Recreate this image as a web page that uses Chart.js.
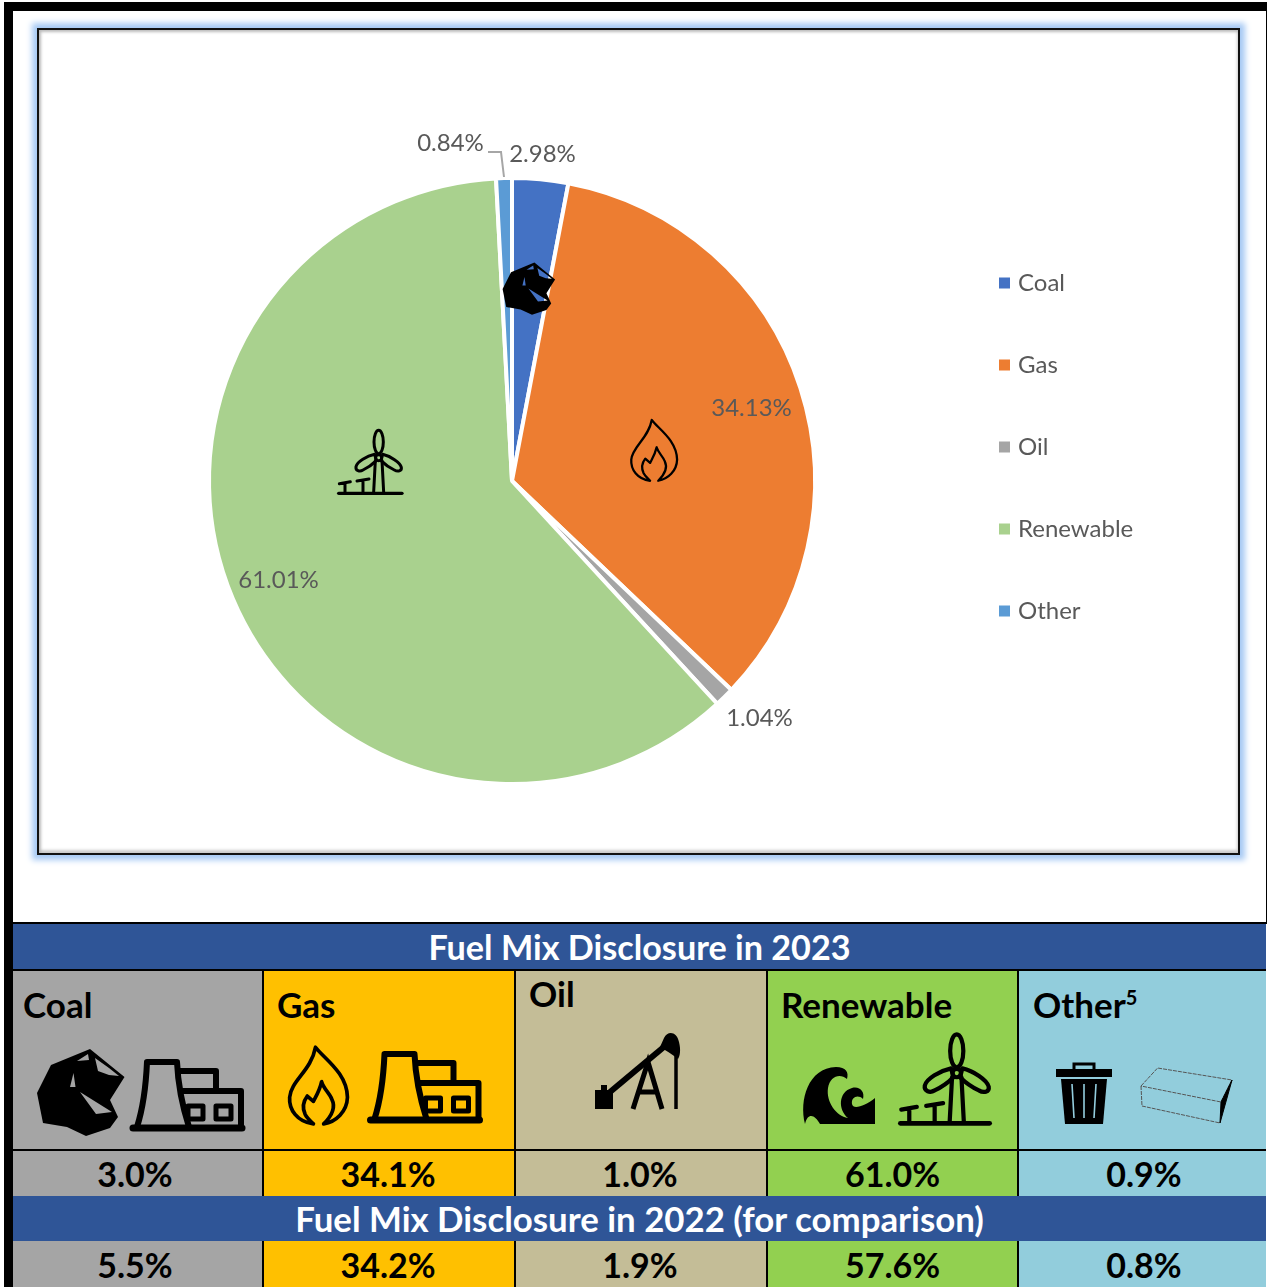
<!DOCTYPE html>
<html>
<head>
<meta charset="utf-8">
<title>Fuel Mix Disclosure</title>
<script src="https://cdn.jsdelivr.net/npm/chart.js@4"></script>
<style>
html,body{margin:0;padding:0;background:#fff;}
#page{position:relative;width:1267px;height:1287px;overflow:hidden;background:#fff;font-family:Lato,sans-serif;}
.edge{position:absolute;background:#000;}
#chartBox{position:absolute;left:37px;top:28px;width:1199px;height:823px;border:2px solid #111;background:#fff;
  box-shadow:0 0 6px 5px #a6c9f4,inset 2px 2px 3px #bbb,inset -1px -3px 3px #ccc;}
#chartWrap{position:absolute;left:40px;top:31px;width:1198px;height:822px;}
#icons{position:absolute;left:0;top:0;pointer-events:none;}
.band{position:absolute;left:13px;width:1253px;background:#2f5597;color:#fff;font-weight:700;text-align:center;white-space:nowrap;}
.cell{position:absolute;box-sizing:border-box;color:#000;font-weight:700;}
.rule{position:absolute;background:#000;}
.name{position:absolute;font-size:35px;line-height:40px;font-weight:700;color:#000;white-space:nowrap;}
.name sup{font-size:20px;line-height:0;vertical-align:baseline;position:relative;top:-13px;}
.val{text-align:center;font-size:34px;}
.val span{position:relative;}
</style>
</head>
<body>
<div id="page">
  <div class="edge" style="left:4px;top:2px;width:1263px;height:9px"></div>
  <div class="edge" style="left:4px;top:2px;width:9px;height:1285px"></div>
  <div class="edge" style="left:1266px;top:2px;width:1px;height:922px"></div>
  <div id="chartBox"></div>
  <div id="chartWrap"><canvas id="fuelChart"></canvas></div>
  <div id="table"></div>
  <svg id="icons" width="1267" height="1287" viewBox="0 0 1267 1287">
    <defs>
      <path id="rock" fill-rule="evenodd" d="M90 1049L124.5 1077L110 1100L118 1117L110 1128L86 1136L67 1127L43 1123L37 1093L51 1065Z
        M77 1061L88 1054L89 1060Z M95 1058L109 1068L119 1076L109 1075L98 1071Z M73.5 1073L70 1087L75.5 1087Z M80 1092L112 1112L96 1114Z"/>
      <g id="plant" fill="none" stroke="#000" stroke-width="6" stroke-linejoin="round" stroke-linecap="round">
        <path d="M133 1128H242" stroke-width="7"/>
        <path d="M137 1127C144 1105 146 1085 147 1062H177C178 1085 182 1105 189 1127"/>
        <path d="M180 1071H216V1091M182 1091H241V1127"/>
        <rect x="188" y="1106" width="15" height="13" stroke-width="5"/>
        <rect x="216" y="1106" width="15" height="13" stroke-width="5"/>
      </g>
      <path id="flame" fill="none" stroke="#000" stroke-linejoin="round" d="M150 245C110 240 90 210 92 180C95 140 145 115 155 58C175 85 232 120 233 180C232 215 205 240 175 245C195 225 205 205 195 185C190 170 175 160 170 142C165 165 155 180 150 190L135 177C125 190 122 205 130 222C135 232 145 240 150 245Z"/>
      <g id="turbine" fill="none" stroke="#000" stroke-width="9" stroke-linecap="round" stroke-linejoin="round">
        <path d="M55 220H245" stroke-width="10"/>
        <path d="M165 122L160 216M185 122L190 216"/>
        <ellipse cx="175" cy="66" rx="14" ry="35"/>
        <path d="M163 103C140 108 110 125 107 140C105 152 118 156 128 150C145 142 160 130 168 122Z"/>
        <path d="M187 103C210 108 240 128 243 142C245 154 232 156 222 150C205 142 190 130 182 122Z"/>
        <circle cx="175" cy="113" r="9"/>
        <path d="M57 191L90 185M74 188V218M110 183L146 177M128 180V218"/>
      </g>
    </defs>

    <!-- icons sitting on the pie -->
    <use href="#rock" transform="translate(480.4 -366.8) scale(.6)"/>
    <use href="#flame" stroke-width="7" transform="translate(629 419) scale(.325) translate(-85 -55)"/>
    <use href="#turbine" transform="translate(337 430) scale(.3333) translate(-50 -30)"/>

    <!-- coal -->
    <use href="#rock"/>
    <use href="#plant"/>
    <!-- gas -->
    <use href="#flame" stroke-width="9" transform="translate(288 1046) scale(.41) translate(-88 -55)"/>
    <use href="#plant" transform="translate(237.5 -8)"/>
    <!-- oil -->
    <g>
      <rect x="595" y="1090" width="18" height="19" fill="#000"/>
      <path d="M601 1090V1085H607V1090" fill="#000"/>
      <path d="M610 1092L665 1046" stroke="#000" stroke-width="6" fill="none"/>
      <path d="M664 1038C668 1030 677 1032 679 1042C681 1050 680 1056 678 1059C672 1054 665 1050 660 1047Z" fill="#000"/>
      <path d="M633 1109L648 1062L662 1109M640 1092H655" stroke="#000" stroke-width="5" fill="none"/>
      <path d="M676 1056V1109" stroke="#000" stroke-width="3.5" fill="none"/>
    </g>
    <!-- renewable -->
    <path fill="#000" d="M805 1124C799 1100 808 1068 836 1067C846 1067 849 1072 847 1079C840 1073 830 1076 828 1088C826 1102 836 1116 848 1118C838 1110 838 1092 852 1088C860 1086 865 1092 863 1099C858 1094 851 1097 852 1104C853 1110 865 1106 875 1098V1124H820C815 1115 808 1112 805 1124Z"/>
    <use href="#turbine" transform="translate(898 1034) scale(.47) translate(-50 -30)"/>
    <!-- other -->
    <g>
      <path d="M1074 1069V1064H1094V1069" fill="none" stroke="#000" stroke-width="3"/>
      <rect x="1056" y="1069" width="56" height="8" fill="#000"/>
      <path d="M1061 1079H1107L1103 1124H1065Z" fill="#000"/>
      <path d="M1072 1084L1074 1118M1084 1084V1118M1096 1084L1094 1118" stroke="#93cddd" stroke-width="1.6" fill="none"/>
      <path d="M1141 1086L1157.6 1068L1232 1080L1221 1102ZM1141 1086L1142 1106L1220 1123" fill="none" stroke="#555" stroke-width="1" stroke-dasharray="4 1"/>
      <path d="M1232 1080L1221 1102L1220 1123Z" fill="#000" stroke="#000"/>
    </g>
  </svg>
</div>

<script>
// pie, 2023
var categories = ["Coal", "Gas", "Oil", "Renewable", "Other"];
var pieValues = [2.98, 34.13, 1.04, 61.01, 0.84];
var pieColors = ["#4472c4", "#ed7d31", "#a5a5a5", "#a9d18e", "#5b9bd5"];

// table under the chart
var tableNames = ["Coal", "Gas", "Oil", "Renewable", "Other"];
var values2023 = ["3.0%", "34.1%", "1.0%", "61.0%", "0.9%"];
var values2022 = ["5.5%", "34.2%", "1.9%", "57.6%", "0.8%"];
var cellColors = ["#a5a5a5", "#ffc000", "#c4bd97", "#92d050", "#92cddc"];
var title2023 = "Fuel Mix Disclosure in 2023";
var title2022 = "Fuel Mix Disclosure in 2022 (for comparison)";

function buildTable() {
    var t = document.getElementById("table");
    var colX = [13, 263, 515, 767, 1018, 1266];
    var nameX = [23, 277, 529, 781, 1033];
    var nameY = [984, 984, 973, 984, 984];
    var valShift = [-3, -1, -1, 0, 2];
    var html = "";
    html += '<div class="rule" style="left:13px;top:922px;width:1254px;height:2px"></div>';
    html += '<div class="band" style="top:924px;height:46px;line-height:45px;font-size:34.2px">' + title2023 + '</div>';
    html += '<div class="rule" style="left:13px;top:969px;width:1253px;height:2px"></div>';
    for (var i = 0; i < 5; i++) {
        var w = colX[i + 1] - colX[i];
        var bg = "background:" + cellColors[i] + ";left:" + colX[i] + "px;width:" + w + "px;";
        var sp = '<span style="left:' + valShift[i] + 'px">';
        html += '<div class="cell" style="' + bg + 'top:971px;height:178px"></div>';
        html += '<div class="cell val" style="' + bg + 'top:1151px;height:45px;line-height:45px">' + sp + values2023[i] + '</span></div>';
        html += '<div class="cell val" style="' + bg + 'top:1241px;height:46px;line-height:48px">' + sp + values2022[i] + '</span></div>';
        var nm = tableNames[i] + (tableNames[i] === "Other" ? "<sup>5</sup>" : "");
        html += '<div class="name" style="left:' + nameX[i] + 'px;top:' + nameY[i] + 'px">' + nm + '</div>';
    }
    html += '<div class="rule" style="left:13px;top:1149px;width:1253px;height:2px"></div>';
    for (var k = 1; k < 5; k++) {
        html += '<div class="rule" style="left:' + (colX[k] - 1) + 'px;top:971px;width:2px;height:225px"></div>';
        html += '<div class="rule" style="left:' + (colX[k] - 1) + 'px;top:1241px;width:2px;height:46px"></div>';
    }
    html += '<div class="band" style="top:1196px;height:45px;line-height:45px;font-size:34.8px">' + title2022 + '</div>';
    t.innerHTML = html;
}
buildTable();

// where each % label sits, relative to the pie centre
var labelOffset = [[30.5, -328], [239.5, -74], [247.5, 236], [-233.5, 98], [-61.5, -339]];

var sliceLabels = {
    id: "sliceLabels",
    afterDatasetsDraw: function (chart) {
        var ctx = chart.ctx;
        var arcs = chart.getDatasetMeta(0).data;
        var cx = arcs[0].x, cy = arcs[0].y;
        ctx.save();
        // leader line for Other
        ctx.strokeStyle = "#a6a6a6";
        ctx.lineWidth = 2;
        ctx.beginPath();
        ctx.moveTo(cx - 24, cy - 329);
        ctx.lineTo(cx - 11, cy - 329);
        ctx.lineTo(cx - 8, cy - 304);
        ctx.stroke();
        ctx.font = "24px Lato";
        ctx.fillStyle = "#595959";
        ctx.textAlign = "center";
        ctx.textBaseline = "middle";
        for (var i = 0; i < pieValues.length; i++) {
            ctx.fillText(pieValues[i].toFixed(2) + "%", cx + labelOffset[i][0], cy + labelOffset[i][1] + 1);
        }
        ctx.restore();
    }
};

// legend stays on the right without pushing the pie off centre
var moveLegend = {
    id: "moveLegend",
    afterLayout: function (chart) {
        var l = chart.legend;
        var w = l.width, h = l.height;
        l.left = 905;
        l.right = l.left + w;
        l.top = 182;
        l.bottom = l.top + h;
    }
};

new Chart(document.getElementById("fuelChart").getContext("2d"), {
    type: "pie",
    data: {
        labels: categories,
        datasets: [{
            data: pieValues,
            backgroundColor: pieColors,
            borderColor: "#ffffff",
            borderWidth: 4
        }]
    },
    plugins: [sliceLabels, moveLegend],
    options: {
        responsive: true,
        maintainAspectRatio: false,
        animation: false,
        layout: { padding: { left: 167, right: 421, top: 145, bottom: 67 } },
        plugins: {
            tooltip: { enabled: false },
            legend: {
                position: "chartArea",
                align: "start",
                labels: {
                    usePointStyle: true,
                    pointStyle: "rect",
                    boxWidth: 3,
                    boxHeight: 11,
                    padding: 58,
                    color: "#595959",
                    font: { family: "Lato", size: 24 },
                    generateLabels: function (chart) {
                        var items = Chart.overrides.pie.plugins.legend.labels.generateLabels(chart);
                        items.forEach(function (it) { it.lineWidth = 0; });
                        return items;
                    }
                }
            }
        }
    }
});
</script>
</body>
</html>
